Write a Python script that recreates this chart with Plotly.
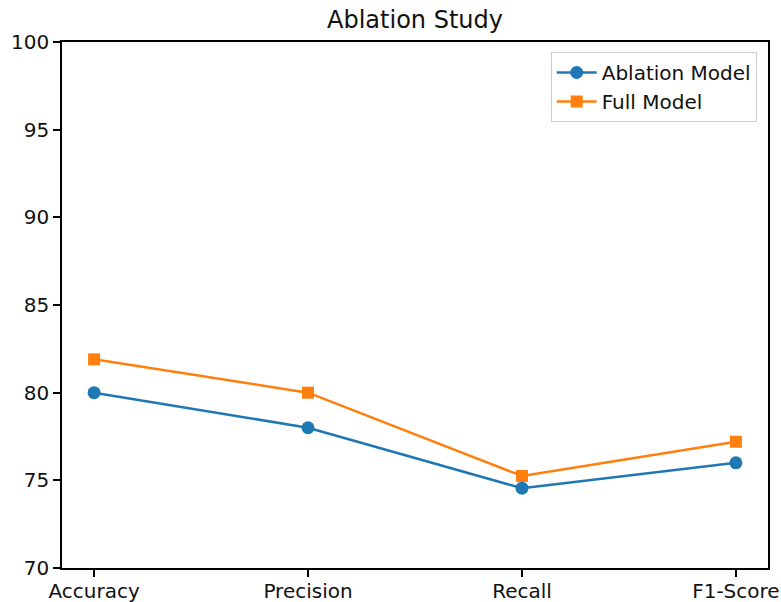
import plotly.graph_objects as go

metrics = ["Accuracy", "Precision", "Recall", "F1-Score"]
ablation = [80.0, 78.0, 74.55, 76.0]
full = [81.9, 80.0, 75.25, 77.2]
yticks = [70, 75, 80, 85, 90, 95, 100]

W, H = 781, 602
L, R, T, B = 62, 13, 42, 34

fig = go.Figure()
fig.add_trace(go.Scatter(x=list(range(len(metrics))), y=ablation, mode="lines+markers",
                         name="Ablation Model",
                         line=dict(color="#1f77b4", width=2.5),
                         marker=dict(symbol="circle", size=13, color="#1f77b4")))
fig.add_trace(go.Scatter(x=list(range(len(metrics))), y=full, mode="lines+markers",
                         name="Full Model",
                         line=dict(color="#ff7f0e", width=2.5),
                         marker=dict(symbol="square", size=12, color="#ff7f0e")))

font = dict(family="DejaVu Sans", size=20, color="#111")
fig.update_layout(
    width=W, height=H,
    margin=dict(l=L, r=R, t=T, b=B, autoexpand=False),
    paper_bgcolor="white", plot_bgcolor="white",
    font=font,
    title=dict(text="Ablation Study", x=(L + (W - R)) / 2 / W, xanchor="center",
               y=1 - 20 / H, yanchor="middle", font=dict(family="DejaVu Sans", size=24, color="#111")),
    showlegend=True,
    legend=dict(x=0.984, xanchor="right", y=0.981, yanchor="top",
                bgcolor="rgba(255,255,255,0.8)", bordercolor="#ccc", borderwidth=1,
                itemwidth=40,
                font=dict(family="DejaVu Sans", size=20, color="#111")),
)
fig.update_xaxes(range=[-0.15, 3.15], tickmode="array", tickvals=list(range(len(metrics))),
                 ticktext=metrics, showgrid=False, zeroline=False, automargin=False,
                 showline=True, linecolor="black", linewidth=1.5, mirror=True,
                 ticks="outside", ticklen=7, tickcolor="black", tickwidth=1.5,
                 ticklabelstandoff=-3)
fig.update_yaxes(range=[70, 100], tickmode="array", tickvals=yticks,
                 ticktext=[str(v) for v in yticks], showgrid=False, zeroline=False, automargin=False,
                 showline=True, linecolor="black", linewidth=1.5, mirror=True,
                 ticks="outside", ticklen=7, tickcolor="black", tickwidth=1.5)

fig.write_html("out.html", config={"displayModeBar": False},
               post_script="document.body.style.margin='0';document.body.style.overflow='hidden';")
